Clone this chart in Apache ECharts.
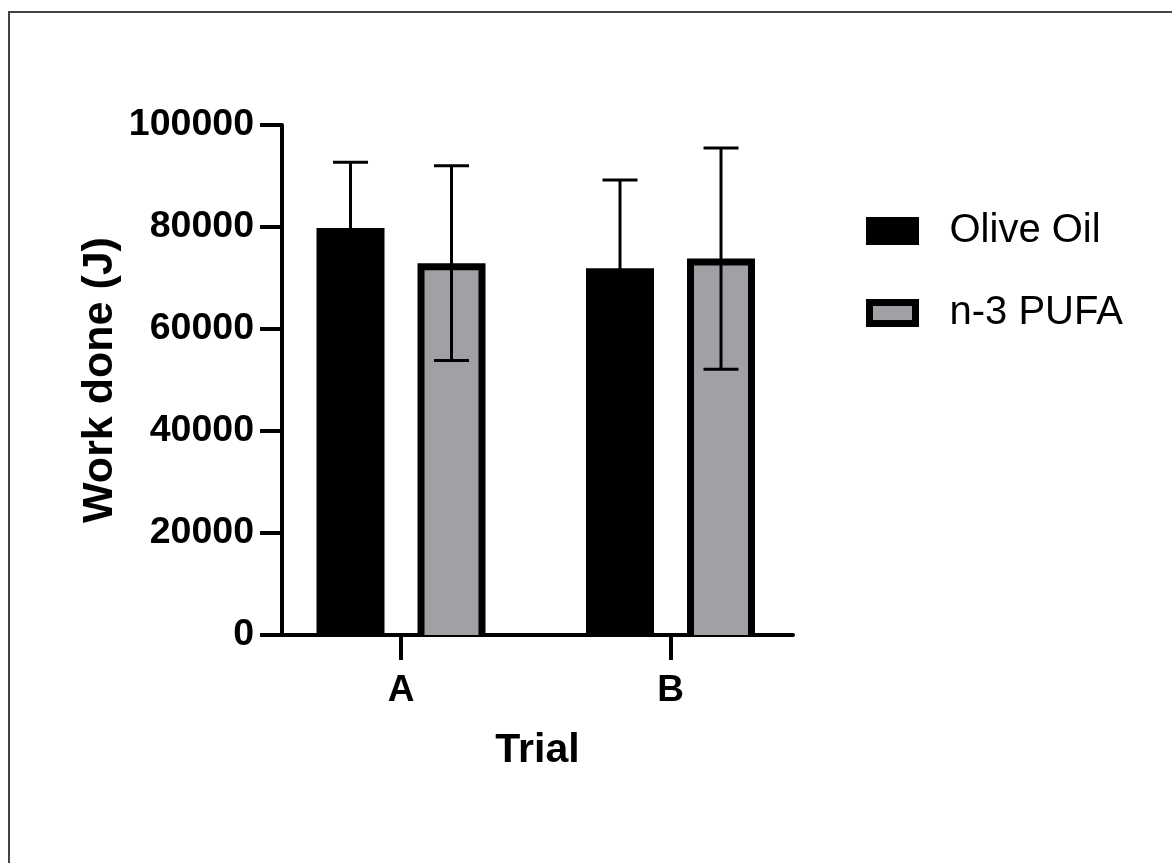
<!DOCTYPE html>
<html>
<head>
<meta charset="utf-8">
<script src="https://cdn.jsdelivr.net/npm/echarts@6/dist/echarts.min.js"></script>
<style>
  html, body { margin: 0; padding: 0; background: #fff; }
  #chart { width: 1172px; height: 863px; }
</style>
</head>
<body>
<div id="chart"></div>
<script>
// Work done per trial, mean and SD for each supplement group
const categories = ['A', 'B'];
const seriesNames = ['Olive Oil', 'n-3 PUFA'];
const oliveMean = [79800, 71900];
const oliveSD = [12900, 17300];
const pufaMean = [72900, 73800];
const pufaSD = [19100, 21700];
const yTicks = [0, 20000, 40000, 60000, 80000, 100000];

const FONT = '"Liberation Sans", Arial, Helvetica, sans-serif';
const GREY = '#a1a0a5';
const BAR_W = 68;
const OFFSET = 50.5;
const BORDER = 7;

function barRenderer(fill, shift, bordered) {
  return function (params, api) {
    const x = api.value(0);
    const v = api.value(1);
    const top = api.coord([x, v]);
    const base = api.coord([x, 0]);
    const left = top[0] + shift - BAR_W / 2;
    const h = base[1] - top[1];
    const children = [{
      type: 'rect',
      shape: { x: left, y: top[1], width: BAR_W, height: h },
      style: { fill: '#000' }
    }];
    if (bordered) {
      children.push({
        type: 'rect',
        shape: { x: left + BORDER, y: top[1] + BORDER, width: BAR_W - 2 * BORDER, height: h - BORDER },
        style: { fill: fill }
      });
    }
    return { type: 'group', children: children };
  };
}

function errRenderer(shift) {
  return function (params, api) {
    const x = api.value(0);
    const lo = api.coord([x, api.value(1)]);
    const hi = api.coord([x, api.value(2)]);
    const cx = lo[0] + shift;
    const cap = 17.5;
    const st = { stroke: '#000', lineWidth: 3, lineCap: 'butt' };
    return {
      type: 'group',
      children: [
        { type: 'line', shape: { x1: cx, y1: lo[1], x2: cx, y2: hi[1] }, style: st },
        { type: 'line', shape: { x1: cx - cap, y1: hi[1], x2: cx + cap, y2: hi[1] }, style: st },
        { type: 'line', shape: { x1: cx - cap, y1: lo[1], x2: cx + cap, y2: lo[1] }, style: st }
      ]
    };
  };
}

const xPos = categories.map((c, i) => i + 1);
const oliveData = xPos.map((x, i) => [x, oliveMean[i]]);
const pufaData = xPos.map((x, i) => [x, pufaMean[i]]);
const oliveErr = xPos.map((x, i) => [x, oliveMean[i] - oliveSD[i], oliveMean[i] + oliveSD[i]]);
const pufaErr = xPos.map((x, i) => [x, pufaMean[i] - pufaSD[i], pufaMean[i] + pufaSD[i]]);

const chart = echarts.init(document.getElementById('chart'), null, { renderer: 'canvas' });

chart.setOption({
  backgroundColor: '#fff',
  animation: false,
  graphic: [{
    type: 'rect',
    shape: { x: 9, y: 12, width: 1300, height: 1000 },
    style: { fill: 'none', stroke: '#444', lineWidth: 2 },
    silent: true,
    z: 100
  }],
  grid: { left: 282, right: 379, top: 125, bottom: 228, containLabel: false },
  legend: {
    orient: 'vertical',
    left: 861,
    top: 206,
    itemWidth: 46,
    itemHeight: 21,
    itemGap: 42,
    icon: 'rect',
    selectedMode: false,
    textStyle: { fontFamily: FONT, fontSize: 40, color: '#000', padding: [0, 0, 0, 29], lineHeight: 40 },
    data: [
      { name: seriesNames[0], itemStyle: { color: '#000', borderColor: '#000', borderWidth: BORDER } },
      { name: seriesNames[1], itemStyle: { color: GREY, borderColor: '#000', borderWidth: BORDER } }
    ]
  },
  xAxis: {
    type: 'value',
    min: 0.5584,
    max: 2.4545,
    name: 'Trial',
    nameLocation: 'middle',
    nameGap: 95,
    nameTextStyle: { fontFamily: FONT, fontSize: 41, fontWeight: 'bold', color: '#000' },
    splitLine: { show: false },
    axisLine: { show: true, lineStyle: { color: '#000', width: 4 } },
    axisTick: { show: true, customValues: xPos, length: 25, lineStyle: { color: '#000', width: 4 } },
    axisLabel: {
      customValues: xPos,
      margin: 37,
      fontFamily: FONT, fontSize: 37, fontWeight: 'bold', color: '#000',
      formatter: v => categories[Math.round(v) - 1]
    }
  },
  yAxis: {
    type: 'value',
    min: 0,
    max: 100000,
    interval: 20000,
    name: 'Work done (J)',
    nameLocation: 'middle',
    nameGap: 160,
    nameTextStyle: { fontFamily: FONT, fontSize: 43, fontWeight: 'bold', color: '#000' },
    splitLine: { show: false },
    axisLine: { show: true, lineStyle: { color: '#000', width: 4 } },
    axisTick: { show: true, length: 22, lineStyle: { color: '#000', width: 4 } },
    axisLabel: {
      margin: 28,
      fontFamily: FONT, fontSize: 37.5, fontWeight: 'bold', color: '#000',
      formatter: v => String(yTicks.find(t => t === v) ?? v)
    }
  },
  series: [
    {
      name: seriesNames[0], type: 'custom', data: oliveData,
      itemStyle: { color: '#000' },
      renderItem: barRenderer('#000', -OFFSET, false), z: 2
    },
    {
      name: seriesNames[1], type: 'custom', data: pufaData,
      itemStyle: { color: GREY },
      renderItem: barRenderer(GREY, OFFSET, true), z: 2
    },
    {
      name: seriesNames[0] + ' SD', type: 'custom', data: oliveErr,
      renderItem: errRenderer(-OFFSET), z: 3
    },
    {
      name: seriesNames[1] + ' SD', type: 'custom', data: pufaErr,
      renderItem: errRenderer(OFFSET), z: 3
    }
  ]
});
</script>
</body>
</html>
